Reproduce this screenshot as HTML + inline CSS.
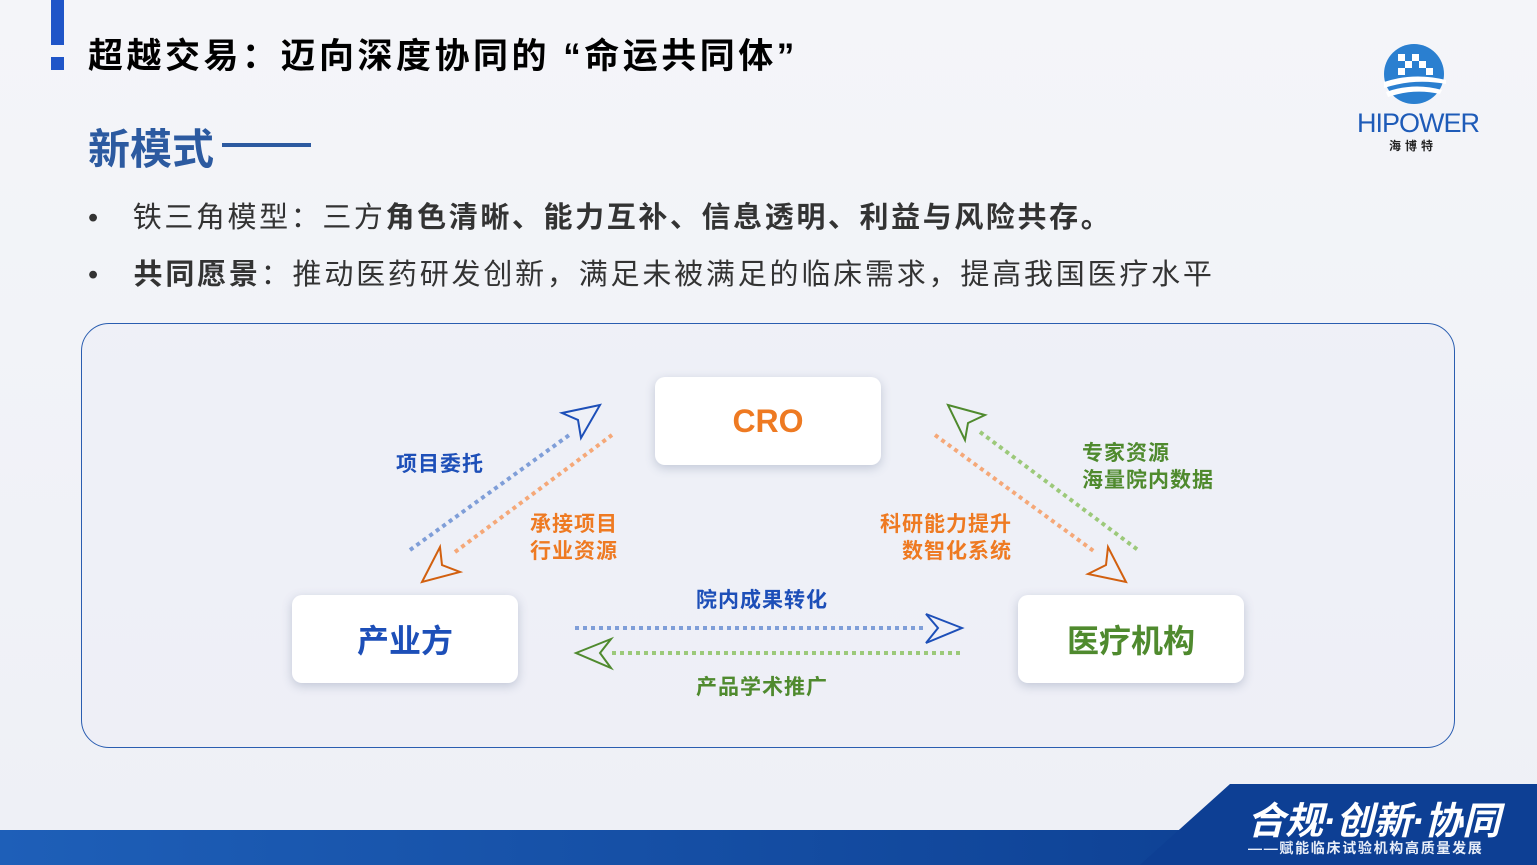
<!DOCTYPE html>
<html><head><meta charset="utf-8"><style>
body{margin:0;width:1537px;height:865px;overflow:hidden;background:linear-gradient(180deg,#f4f5f9,#eef0f6);position:relative;font-family:"Liberation Sans","Noto Sans CJK SC",sans-serif}
.a{position:absolute;white-space:nowrap}
.box{position:absolute;width:226px;height:88px;background:#fff;border-radius:10px;box-shadow:0 3px 10px rgba(60,80,120,.25);display:flex;align-items:center;justify-content:center;font-weight:bold;font-size:32px}
.l{font-size:21px;font-weight:bold;letter-spacing:1px}
</style></head><body>
<div class="a" style="left:51px;top:0;width:13px;height:45px;background:#1f55c8"></div>
<div class="a" style="left:51px;top:57px;width:13px;height:13px;background:#1f55c8"></div>
<div class="a" style="left:88px;top:28px;font-size:35px;font-weight:bold;color:#000;letter-spacing:3.5px">超越交易：迈向深度协同的 “命运共同体”</div>
<div class="a" style="left:88px;top:116px;font-size:42px;font-weight:bold;color:#2c5aa0">新模式</div>
<div class="a" style="left:222px;top:143px;width:89px;height:4px;background:#2c5aa0"></div>
<div class="a" style="left:88px;top:194px;font-size:29px;color:#333;letter-spacing:2.6px">•&nbsp;&nbsp;&nbsp;铁三角模型：三方<b>角色清晰、能力互补、信息透明、利益与风险共存。</b></div>
<div class="a" style="left:88px;top:251px;font-size:29px;color:#333;letter-spacing:2.8px">•&nbsp;&nbsp;&nbsp;<b>共同愿景</b>：推动医药研发创新，满足未被满足的临床需求，提高我国医疗水平</div>
<svg class="a" style="left:1380px;top:42px" width="70" height="64" viewBox="0 0 70 64">
<circle cx="34" cy="32" r="30" fill="#2a7fd0"/>
<g fill="#fff"><rect x="18" y="12" width="7" height="7"/><rect x="32" y="12" width="7" height="7"/><rect x="25" y="19" width="7" height="7"/><rect x="39" y="19" width="7" height="7"/><rect x="18" y="26" width="7" height="7"/><rect x="46" y="26" width="7" height="7"/></g>
<path d="M4 40 Q34 30 66 38 L66 42 Q34 36 4 46Z M6 50 Q34 40 62 48 L60 52 Q34 46 8 55Z" fill="#fff"/>
</svg>
<div class="a" style="left:1357px;top:108px;font-size:27px;color:#1e5bb8;letter-spacing:-1px">HIPOWER</div>
<div class="a" style="left:1389px;top:137px;font-size:12px;font-weight:bold;color:#222;letter-spacing:4px">海博特</div>
<div class="a" style="left:81px;top:323px;width:1372px;height:423px;border:1.5px solid #2a5db0;border-radius:28px;background:rgba(236,239,246,.6)"></div>
<div class="box" style="left:655px;top:377px;color:#ee7a22">CRO</div>
<div class="box" style="left:292px;top:595px;color:#1d4fb8">产业方</div>
<div class="box" style="left:1018px;top:595px;color:#4f8a2e">医疗机构</div>
<svg class="a" style="left:0;top:0" width="1537" height="865">
<g fill="none" stroke-width="4" stroke-dasharray="4 4">
<line x1="410" y1="550" x2="572" y2="433" stroke="#7f9ed8"/>
<line x1="455" y1="552" x2="612" y2="435" stroke="#f5a878"/>
<line x1="980" y1="432" x2="1138" y2="550" stroke="#9cc97a"/>
<line x1="935" y1="435" x2="1095" y2="552" stroke="#f5a878"/>
<line x1="575" y1="628" x2="926" y2="628" stroke="#7f9ed8"/>
<line x1="612" y1="653" x2="962" y2="653" stroke="#9cc97a"/>
</g>
<g fill="none" stroke-width="2" stroke-linejoin="miter">
<polygon points="600,405 562,413 578,420 581,438" stroke="#1d4fb8"/>
<polygon points="422,582 440,547 442,565 460,572" stroke="#d2600f"/>
<polygon points="948,405 985,415 968,423 965,440" stroke="#4f8a2e"/>
<polygon points="1126,582 1108,547 1106,565 1088,574" stroke="#d2600f"/>
<polygon points="962,628 926,614 938,628 926,643" stroke="#1d4fb8"/>
<polygon points="576,653 611,639 600,653 611,668" stroke="#4f8a2e"/>
</g>
</svg>
<div class="a l" style="left:396px;top:448px;color:#1d4fb8">项目委托</div>
<div class="a l" style="left:530px;top:511px;color:#ee7a22;line-height:27px">承接项目<br>行业资源</div>
<div class="a l" style="left:1082px;top:440px;color:#4f8a2e;line-height:27px">专家资源<br>海量院内数据</div>
<div class="a l" style="left:880px;top:511px;color:#ee7a22;line-height:27px;text-align:right">科研能力提升<br>数智化系统</div>
<div class="a l" style="left:696px;top:584px;color:#1d4fb8">院内成果转化</div>
<div class="a l" style="left:696px;top:671px;color:#4f8a2e">产品学术推广</div>
<svg class="a" style="left:0;top:760px" width="1537" height="105">
<defs><linearGradient id="g" x1="0" x2="1"><stop offset="0" stop-color="#1e5fb8"/><stop offset="1" stop-color="#0a3a8c"/></linearGradient></defs>
<rect x="0" y="70" width="1537" height="35" fill="url(#g)"/>
<polygon points="1230,24 1537,24 1537,105 1140,105" fill="#0d3f94"/>
</svg>
<div class="a" style="left:1247px;top:790px;font-size:38px;font-weight:bold;font-style:italic;color:#fff">合规·创新·协同</div>
<div class="a" style="left:1248px;top:838px;font-size:14px;font-weight:bold;color:#e8eef8;letter-spacing:1.7px">——赋能临床试验机构高质量发展</div>
</body></html>
